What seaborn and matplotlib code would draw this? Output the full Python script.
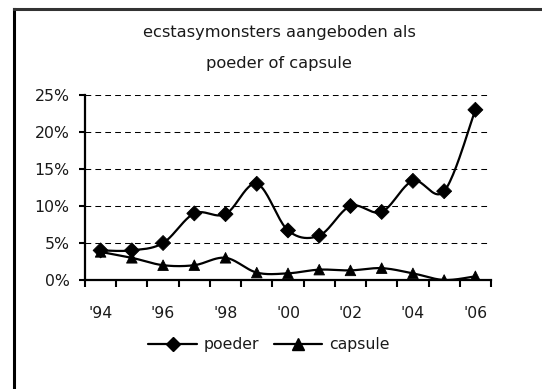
import numpy as np
import pandas as pd
import matplotlib
matplotlib.use("Agg")
import matplotlib.pyplot as plt
from matplotlib.lines import Line2D
from matplotlib.ticker import FixedLocator, FuncFormatter
import seaborn as sns

# Share of ecstasy samples submitted as powder or capsule, per year
years = ["'94", "'95", "'96", "'97", "'98", "'99", "'00", "'01", "'02", "'03", "'04", "'05", "'06"]
poeder = [4.0, 4.0, 5.0, 9.0, 8.9, 13.0, 6.7, 6.0, 10.0, 9.2, 13.4, 12.0, 23.0]
capsule = [3.8, 3.0, 2.0, 2.0, 3.0, 1.0, 0.9, 1.4, 1.3, 1.6, 0.9, 0.0, 0.5]
yticks = [0, 5, 10, 15, 20, 25]
title = "ecstasymonsters aangeboden als\npoeder of capsule"

sns.set_theme(style="white")
plt.rcParams["font.family"] = ["DejaVu Sans"]
FS = 11.3


def smooth(xs, ys, steps=24):
    """Bezier smoothing through every point (cardinal spline, tension 1/6)."""
    p = np.column_stack([xs, ys]).astype(float)
    ext = np.vstack([p[0], p, p[-1]])
    t = np.linspace(0, 1, steps)[:, None]
    out = []
    for i in range(len(p) - 1):
        p0, p3 = ext[i + 1], ext[i + 2]
        c1 = p0 + (ext[i + 2] - ext[i]) / 6.0
        c2 = p3 - (ext[i + 3] - ext[i + 1]) / 6.0
        seg = ((1 - t) ** 3) * p0 + 3 * ((1 - t) ** 2) * t * c1 + 3 * (1 - t) * t ** 2 * c2 + t ** 3 * p3
        out.append(seg if i == 0 else seg[1:])
    return np.vstack(out)


W, H = 542, 389
fig = plt.figure(figsize=(W / 100, H / 100), dpi=100)
ax = fig.add_axes([85 / W, 1 - 280 / H, (491 - 85) / W, (280 - 95) / H])

idx = np.arange(len(years))
points = pd.DataFrame({
    "x": np.concatenate([idx, idx]),
    "y": np.concatenate([poeder, capsule]),
    "serie": ["poeder"] * len(years) + ["capsule"] * len(years),
})

curves = []
for name, vals in [("poeder", poeder), ("capsule", capsule)]:
    c = smooth(idx, vals)
    curves.append(pd.DataFrame({"x": c[:, 0], "y": c[:, 1], "serie": name}))
curves = pd.concat(curves, ignore_index=True)

# grid lines first so the series sit on top
for v in yticks[1:]:
    ax.axhline(v, color="black", lw=0.75, ls=(0, (5.5, 4)), zorder=0)

sns.lineplot(data=curves, x="x", y="y", units="serie", estimator=None, sort=False,
             color="black", lw=1.6, ax=ax, legend=False, zorder=2)
sns.scatterplot(data=points, x="x", y="y", style="serie",
                markers={"poeder": "D", "capsule": "^"},
                s=58, color="black", edgecolor="black", ax=ax, legend=False, zorder=3)

ax.set_xlim(-0.5, len(years) - 0.5)
ax.set_ylim(0, 25)
ax.set_xlabel("")
ax.set_ylabel("")

# y axis
ax.yaxis.set_major_locator(FixedLocator(yticks))
ax.yaxis.set_major_formatter(FuncFormatter(lambda v, _: f"{v:.0f}%"))
ax.tick_params(axis="y", which="major", direction="out", length=4, width=1.5,
               color="black", pad=7, labelsize=FS, labelcolor="#1a1a1a", left=True)

# x axis: marks between categories, labels on every other year
ax.xaxis.set_major_locator(FixedLocator(np.arange(-0.5, len(years), 1.0)))
ax.xaxis.set_major_formatter(FuncFormatter(lambda v, _: ""))
ax.xaxis.set_minor_locator(FixedLocator(idx[::2]))
ax.set_xticklabels([years[i] for i in idx[::2]], minor=True)
ax.tick_params(axis="x", which="major", direction="out", length=5, width=1.5,
               color="black", bottom=True)
ax.tick_params(axis="x", which="minor", length=0, pad=19, labelsize=FS, labelcolor="#1a1a1a")

for side in ("top", "right"):
    ax.spines[side].set_visible(False)
for side in ("left", "bottom"):
    ax.spines[side].set_color("black")
    ax.spines[side].set_linewidth(1.6)
ax.set_facecolor("white")

fig.text(279 / W, 1 - 48 / H, title, ha="center", va="center", fontsize=FS + 0.4,
         color="#1a1a1a", linespacing=2.35)

handles = [
    Line2D([], [], color="black", lw=1.6, marker="D", markersize=7),
    Line2D([], [], color="black", lw=1.6, marker="^", markersize=8),
]
fig.legend(handles, ["poeder", "capsule"], loc="center", bbox_to_anchor=(269 / W, 1 - 345 / H),
           ncol=2, frameon=False, fontsize=FS, handlelength=3.1, handletextpad=0.45,
           columnspacing=0.9, labelcolor="#1a1a1a")

# outer chart frame (left and top edges)
fig.add_artist(Line2D([13.5 / W, 13.5 / W], [0, 1 - 9 / H], color="black", lw=2.2,
                      solid_capstyle="projecting", transform=fig.transFigure))
fig.add_artist(Line2D([13.5 / W, 1], [1 - 9 / H, 1 - 9 / H], color="#333333", lw=2.2,
                      solid_capstyle="projecting", transform=fig.transFigure))

fig.savefig("out.png", dpi=100, facecolor="white")
